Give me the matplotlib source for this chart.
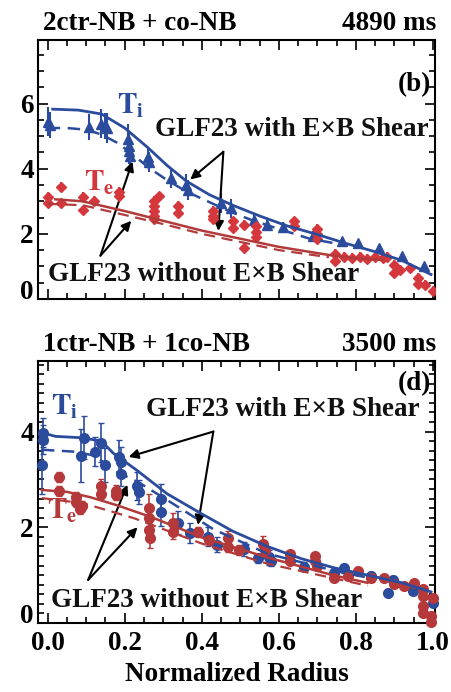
import numpy as np
import matplotlib
matplotlib.use("Agg")
import matplotlib.pyplot as plt
from matplotlib.ticker import MultipleLocator

plt.rcParams["font.family"] = ["Liberation Serif", "DejaVu Serif"]
plt.rcParams["font.weight"] = "bold"
plt.rcParams["mathtext.fontset"] = "stix"

BLUE = "#2b4b9c"
RED_B = "#d5383c"
RED_D = "#b5383a"
RED_LINE = "#b23a3a"

# ---------------- panel (b): 2ctr-NB + co-NB, 4890 ms ----------------
b_ti_r = [0.0, 0.005, 0.107, 0.138, 0.15, 0.155, 0.208, 0.21, 0.212, 0.215, 0.26, 0.262,
          0.32, 0.36, 0.365, 0.45, 0.475, 0.535, 0.57, 0.61, 0.688, 0.765, 0.805, 0.86,
          0.92, 0.977]
b_ti_t = [5.45, 5.35, 5.28, 5.38, 5.3, 5.25, 4.92, 4.7, 4.55, 4.4, 4.35, 4.2,
          3.7, 3.5, 3.35, 2.95, 2.78, 2.42, 2.28, 2.22, 1.93, 1.77, 1.71, 1.56,
          1.31, 1.0]
b_ti_e = [0.45, 0.4, 0.4, 0.45, 0.4, 0.45, 0.45, 0.45, 0.4, 0.35, 0.3, 0.3,
          0.3, 0.35, 0.3, 0.3, 0.3, 0.2, 0.2, 0.15, 0.15, 0.1, 0.1, 0.1,
          0.1, 0.1]

b_te_r = [0.0, 0.0, 0.034, 0.034, 0.093, 0.093, 0.12, 0.185, 0.185, 0.275, 0.275, 0.275,
          0.275, 0.275, 0.29, 0.337, 0.337, 0.43, 0.43, 0.43, 0.48, 0.48, 0.51, 0.51,
          0.54, 0.54, 0.54, 0.64, 0.64, 0.70, 0.70, 0.70, 0.745, 0.745, 0.77, 0.79,
          0.81, 0.83, 0.85, 0.87, 0.88, 0.9, 0.9, 0.915, 0.94, 0.96, 0.96, 0.98, 1.0]
b_te_t = [3.12, 2.95, 3.45, 2.94, 3.12, 2.72, 3.0, 3.3, 3.15, 3.0, 2.85, 2.7,
          2.55, 2.45, 3.15, 2.85, 2.63, 2.7, 2.55, 2.45, 2.38, 2.17, 2.26, 1.56,
          2.25, 2.05, 1.9, 2.38, 2.25, 2.15, 2.0, 1.85, 1.37, 1.16, 1.3, 1.25,
          1.3, 1.22, 1.28, 1.25, 1.3, 1.05, 0.8, 0.9, 0.95, 0.64, 0.45, 0.43, 0.25]

b_ti_fit_r = [0.013, 0.08, 0.14, 0.2, 0.26, 0.31, 0.36, 0.42, 0.48, 0.55, 0.62, 0.7,
              0.77, 0.85, 0.92, 0.995]
b_ti_fit_t = [5.83, 5.8, 5.68, 5.25, 4.65, 4.1, 3.62, 3.2, 2.88, 2.55, 2.25, 1.98,
              1.72, 1.45, 1.18, 0.75]
b_ti_noexb_r = [0.0, 0.05, 0.1, 0.14, 0.18, 0.22, 0.26, 0.31, 0.36, 0.415, 0.47, 0.53,
                0.6, 0.68, 0.75]
b_ti_noexb_t = [5.25, 5.25, 5.2, 5.05, 4.8, 4.45, 4.05, 3.65, 3.3, 3.0, 2.7, 2.42,
                2.15, 1.85, 1.7]
b_te_fit_r = [0.02, 0.09, 0.2, 0.3, 0.4, 0.5, 0.6, 0.73, 0.8, 0.87]
b_te_fit_t = [3.06, 3.0, 2.7, 2.4, 2.1, 1.85, 1.6, 1.35, 1.25, 1.2]
b_te_noexb_r = [0.0, 0.09, 0.2, 0.3, 0.4, 0.5, 0.6, 0.73]
b_te_noexb_t = [2.92, 2.88, 2.58, 2.3, 2.0, 1.75, 1.5, 1.28]

# ---------------- panel (d): 1ctr-NB + 1co-NB, 3500 ms ----------------
d_ti_r = [-0.012, -0.012, -0.015, 0.086, 0.094, 0.122, 0.138, 0.15, 0.185, 0.19, 0.19,
          0.232, 0.236, 0.293, 0.293, 0.337, 0.37, 0.415, 0.44, 0.51, 0.545, 0.575,
          0.58, 0.665, 0.743, 0.77, 0.84, 0.895, 0.883, 0.948, 1.0]
d_ti_t = [3.98, 3.83, 3.3, 3.5, 3.87, 3.58, 3.77, 3.3, 3.47, 3.37, 3.12,
          2.86, 2.74, 2.6, 2.32, 2.1, 1.88, 1.8, 1.64, 1.55, 1.35, 1.37,
          1.3, 1.18, 1.05, 1.14, 0.99, 0.9, 0.63, 0.67, 0.42]
d_ti_e = [0.3, 0.3, 0.6, 0.55, 0.45, 0.3, 0.4, 0.35, 0.35, 0.3, 0.25,
          0.3, 0.25, 0.3, 0.3, 0.25, 0.2, 0.2, 0.15, 0.15, 0.1, 0.15,
          0.1, 0.1, 0.1, 0.1, 0.08, 0.08, 0.05, 0.05, 0.05]

d_te_r = [0.03, 0.03, 0.073, 0.073, 0.09, 0.085, 0.138, 0.138, 0.177, 0.177, 0.262,
          0.262, 0.262, 0.265, 0.325, 0.325, 0.39, 0.42, 0.467, 0.467, 0.497, 0.56,
          0.565, 0.63, 0.63, 0.695, 0.695, 0.70, 0.743, 0.78, 0.805, 0.84, 0.873,
          0.9, 0.925, 0.95, 0.973, 0.973, 0.973, 0.973, 1.0, 0.995, 0.995]
d_te_t = [3.05, 2.76, 2.63, 2.53, 2.45, 2.38, 2.86, 2.7, 2.76, 2.68, 2.4,
          2.2, 1.94, 1.77, 2.1, 1.9, 1.9, 1.73, 1.78, 1.58, 1.52, 1.66,
          1.52, 1.45, 1.3, 1.41, 1.3, 1.2, 0.95, 0.99, 1.09, 0.93, 0.93,
          0.82, 0.78, 0.84, 0.72, 0.57, 0.36, 0.2, 0.53, 0.15, 0.02]
d_te_e = [0.1, 0.1, 0.1, 0.1, 0.1, 0.1, 0.15, 0.1, 0.12, 0.1, 0.3,
          0.2, 0.2, 0.2, 0.2, 0.15, 0.1, 0.1, 0.15, 0.1, 0.1, 0.15,
          0.1, 0.05, 0.05, 0.05, 0.05, 0.05, 0.05, 0.05, 0.05, 0.05, 0.05,
          0.05, 0.05, 0.05, 0.05, 0.05, 0.05, 0.05, 0.05, 0.05, 0.05]

d_ti_fit_r = [-0.015, 0.02, 0.09, 0.14, 0.17, 0.23, 0.31, 0.4, 0.48, 0.57, 0.66, 0.745,
              0.83, 0.915, 0.995]
d_ti_fit_t = [3.98, 3.9, 3.87, 3.8, 3.55, 3.2, 2.7, 2.28, 1.92, 1.6, 1.34, 1.15,
              1.0, 0.85, 0.65]
d_ti_noexb_r = [-0.015, 0.07, 0.12, 0.18, 0.24, 0.31, 0.43, 0.57, 0.74, 0.83]
d_ti_noexb_t = [3.62, 3.58, 3.5, 3.16, 2.92, 2.57, 1.96, 1.45, 1.1, 0.95]
d_te_fit_r = [-0.015, 0.05, 0.11, 0.18, 0.27, 0.4, 0.57, 0.745, 0.83]
d_te_fit_t = [2.78, 2.74, 2.63, 2.46, 2.21, 1.79, 1.37, 0.99, 0.84]
d_te_noexb_r = [-0.015, 0.094, 0.224, 0.4, 0.57, 0.745, 0.83]
d_te_noexb_t = [2.61, 2.5, 2.19, 1.66, 1.24, 0.93, 0.78]

xticks = [0.0, 0.2, 0.4, 0.6, 0.8, 1.0]
xticklabels = ["0.0", "0.2", "0.4", "0.6", "0.8", "1.0"]

fig = plt.figure(figsize=(4.51, 6.92), dpi=100)
ax1 = fig.add_axes([0.0843, 0.568, 0.880, 0.374])
ax2 = fig.add_axes([0.0843, 0.0997, 0.880, 0.379])

FS = 19.5
ARROW = dict(arrowstyle="-|>", color="black", lw=1.5, mutation_scale=14,
             shrinkA=0, shrinkB=0)


def style_axes(ax, ylim, yminor):
    ax.set_xlim(-0.025, 1.005)
    ax.set_ylim(*ylim)
    ax.set_xticks(xticks)
    ax.xaxis.set_minor_locator(MultipleLocator(0.05))
    ax.yaxis.set_major_locator(MultipleLocator(2))
    ax.yaxis.set_minor_locator(MultipleLocator(yminor))
    ax.tick_params(which="both", direction="in", top=True, right=True, width=1.2,
                   labelsize=FS)
    ax.tick_params(axis="y", pad=3)
    ax.tick_params(axis="x", pad=6)
    ax.tick_params(which="major", length=7)
    ax.tick_params(which="minor", length=4)
    for sp in ax.spines.values():
        sp.set_linewidth(1.5)


def finish_yticks(ax, ticks):
    ax.set_yticks(ticks)
    ax.set_yticklabels([str(t) for t in ticks], fontweight="bold")
    # the zero label rests on the bottom edge of the frame
    ax.get_yticklabels()[0].set_verticalalignment("baseline")


def annotate_pair(ax, label, apex, tips, text_xy):
    ax.text(*text_xy, label, ha="center", va="center", fontsize=FS,
            fontweight="bold", color="#111111")
    for tip in tips:
        ax.annotate("", xy=tip, xytext=apex, arrowprops=ARROW)


# panel (b)
ax = ax1
ax.errorbar(b_ti_r, b_ti_t, yerr=b_ti_e, fmt="^", ms=7.5, color=BLUE, ecolor=BLUE,
            elinewidth=1.5, capsize=0, zorder=3)
ax.errorbar(b_te_r, b_te_t, yerr=0.15, xerr=0.01, fmt="D", ms=5.5, color=RED_B,
            ecolor=RED_B, elinewidth=1.3, capsize=0, zorder=3)
ax.plot(b_ti_fit_r, b_ti_fit_t, "-", color=BLUE, lw=2.0, zorder=4)
ax.plot(b_ti_noexb_r, b_ti_noexb_t, "--", color=BLUE, lw=1.8, dashes=(5, 3), zorder=4)
ax.plot(b_te_fit_r, b_te_fit_t, "-", color=RED_LINE, lw=1.8, zorder=4)
ax.plot(b_te_noexb_r, b_te_noexb_t, "--", color=RED_LINE, lw=1.6, dashes=(5, 3), zorder=4)
style_axes(ax, (0.0, 7.95), 0.5)
finish_yticks(ax, [0, 2, 4, 6])
ax.set_xticklabels([])
ax.text(0.013, 1.015, "2ctr-NB + co-NB", transform=ax.transAxes, ha="left", va="bottom",
        fontsize=FS, fontweight="bold")
ax.text(1.003, 1.015, "4890 ms", transform=ax.transAxes, ha="right", va="bottom",
        fontsize=FS, fontweight="bold")
ax.text(0.953, 6.59, "(b)", ha="center", va="center", fontsize=FS, fontweight="bold")
ax.text(0.215, 5.92, r"$\mathbf{T}_{\mathbf{i}}$", color=BLUE, fontsize=21,
        ha="center", va="center")
ax.text(0.135, 3.55, r"$\mathbf{T}_{\mathbf{e}}$", color=RED_B, fontsize=21,
        ha="center", va="center")
annotate_pair(ax, "GLF23 with E\u00d7B Shear", (0.456, 4.52),
              [(0.37, 3.67), (0.443, 2.09)], (0.634, 5.19))
annotate_pair(ax, "GLF23 without E\u00d7B Shear", (0.137, 1.33),
              [(0.22, 4.22), (0.217, 2.4)], (0.405, 0.75))

# panel (d)
ax = ax2
ax.errorbar(d_ti_r, d_ti_t, yerr=d_ti_e, fmt="o", ms=7, color=BLUE, ecolor=BLUE,
            elinewidth=1.2, capsize=2.5, capthick=1.0, zorder=3, clip_on=False)
ax.errorbar(d_te_r, d_te_t, yerr=d_te_e, fmt="o", ms=7, color=RED_D, ecolor=RED_D,
            elinewidth=1.2, capsize=2.5, capthick=1.0, zorder=3, clip_on=False)
ax.plot(d_ti_fit_r, d_ti_fit_t, "-", color=BLUE, lw=2.0, zorder=4)
ax.plot(d_ti_noexb_r, d_ti_noexb_t, "--", color=BLUE, lw=1.8, dashes=(5, 3), zorder=4)
ax.plot(d_te_fit_r, d_te_fit_t, "-", color=RED_LINE, lw=1.8, zorder=4)
ax.plot(d_te_noexb_r, d_te_noexb_t, "--", color=RED_LINE, lw=1.6, dashes=(5, 3), zorder=4)
style_axes(ax, (0.0, 5.48), 0.2)
finish_yticks(ax, [0, 2, 4])
ax.set_xticklabels(xticklabels, fontweight="bold")
ax.set_xlabel("Normalized Radius", fontsize=FS, fontweight="bold", labelpad=4)
ax.text(0.013, 1.015, "1ctr-NB + 1co-NB", transform=ax.transAxes, ha="left", va="bottom",
        fontsize=FS, fontweight="bold")
ax.text(1.003, 1.015, "3500 ms", transform=ax.transAxes, ha="right", va="bottom",
        fontsize=FS, fontweight="bold")
ax.text(0.953, 5.0, "(d)", ha="center", va="center", fontsize=FS, fontweight="bold")
ax.text(0.045, 4.52, r"$\mathbf{T}_{\mathbf{i}}$", color=BLUE, fontsize=21,
        ha="center", va="center")
ax.text(0.037, 2.34, r"$\mathbf{T}_{\mathbf{e}}$", color=RED_D, fontsize=21,
        ha="center", va="center")
annotate_pair(ax, "GLF23 with E\u00d7B Shear", (0.43, 4.0),
              [(0.21, 3.47), (0.39, 2.05)], (0.61, 4.46))
annotate_pair(ax, "GLF23 without E\u00d7B Shear", (0.105, 0.9),
              [(0.207, 2.89), (0.233, 2.0)], (0.412, 0.46))

fig.savefig("out.png", dpi=100)
